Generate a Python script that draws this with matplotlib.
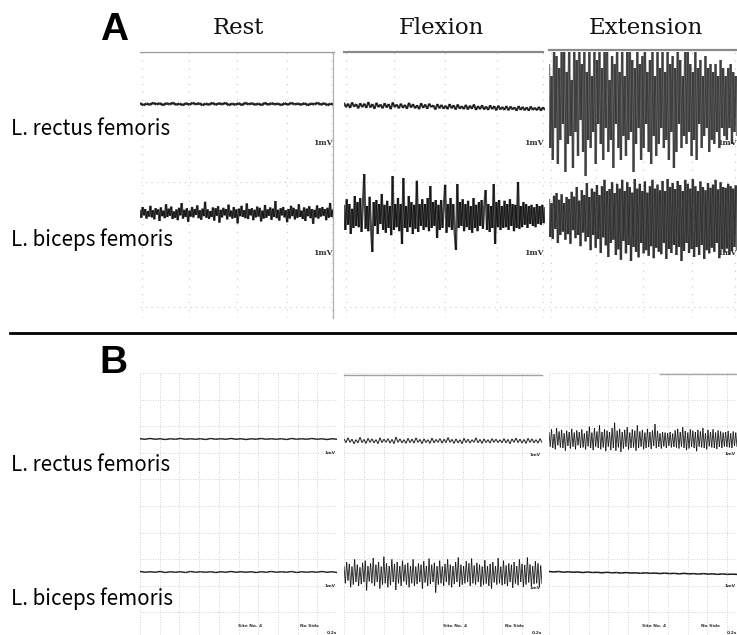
import numpy as np
import matplotlib.pyplot as plt
from matplotlib.collections import LineCollection

# ============================================================================
# EMG traces
# values are deviations from each trace's baseline in units of 0.01 mV
# ============================================================================

# --- A: Rest ---
a_rest_rectus = [2, -3, 1, -2, 3, -1, 2, -3, 2, -1, 3, -2, 1, -3, 2, -2, 3, -1, 2, -3,
                 1, -2, 3, -2, 2, -1, 3, -3, 1, -2, 2, -3, 3, -1, 2, -2, 1, -3, 3, -2,
                 2, -1, 1, -3, 2, -2, 3, -1, 1, -2, 2, -3, 1, -1, 3, -2, 2, -3, 1, -2]
a_rest_biceps = [8, -12, 15, -6, 10, -14, 5, -9, 18, -11, 7, -16, 12, -4, 9, -20, 14, -8, 6, -13,
                 22, -10, 11, -7, 16, -15, 4, -12, 9, -18, 13, -6, 25, -14, 8, -10, 12, -22, 6, -9,
                 15, -11, 10, -5, 19, -13, 7, -17, 11, -8, 28, -12, 9, -15, 5, -10, 14, -19, 12, -7,
                 17, -24, 8, -11, 13, -6, 10, -16, 21, -9, 6, -14, 15, -12, 9, -26, 11, -8, 18, -10,
                 7, -13, 24, -15, 10, -6, 12, -18, 8, -11, 16, -9, 13, -21, 6, -14, 20, -12, 9, -7,
                 14, -17, 11, -10, 30, -13, 8, -19, 12, -6, 15, -11, 7, -23, 10, -14, 18, -8, 13, -16,
                 9, -12, 22, -10, 6, -15, 14, -20, 11, -8, 17, -13, 10, -27, 8, -11, 19, -14, 12, -9,
                 15, -7, 10, -18, 13, -12, 25, -10, 8, -16]

# --- A: Flexion ---
a_flex_rectus = [8, -3, 6, -5, 9, -2, 5, -6, 7, -3, 6, -5, 10, -4, 5, -7, 8, -3, 4, -6,
                 7, -4, 5, -8, 9, -3, 4, -6, 6, -5, 3, -7, 8, -4, 5, -6, 2, -8, 7, -5,
                 4, -7, 6, -3, 2, -9, 5, -6, 3, -7, 1, -8, 5, -6, 2, -9, 4, -7, 0, -8,
                 3, -9, 1, -7, 4, -10, 0, -8, 2, -9, -1, -10, 2, -8, 0, -11, 1, -9, -2, -10,
                 0, -11, -1, -9, -3, -12, 0, -10, -2, -11, -3, -12, -1, -10, -4, -11, -2, -12, -3, -10]
a_flex_biceps = [28, -35, 42, -22, 30, -45, 18, -30, 50, -25, 35, -28, 45, -40, 30, 105, -32, 25, -38, 48,
                 -30, -90, 35, -25, 40, -45, 30, -20, 55, -35, 28, -42, 38, -30, 25, -48, 100, -35, 30, -28,
                 45, -38, 30, -70, 95, -30, 25, -40, 50, -28, 35, -45, 28, -32, 88, -40, 30, -25, 42, -35,
                 30, -28, 45, -38, 75, -30, 35, -25, 40, -55, 28, -35, 40, -30, 25, 78, -42, 30, -28, 45,
                 -35, 30, -40, -85, 80, -30, 35, -25, 42, -38, 30, -28, 38, -35, 25, -42, 45, -30, 28, -38,
                 35, -25, 40, -32, 28, 65, -35, 30, -40, 25, -30, 80, -70, 35, -28, 40, -35, 25, -30, 38,
                 -28, 30, -35, 42, -25, 30, -38, 28, -30, 85, -32, 25, -28, 35, -22, 30, -30, 25, -20, 28,
                 -25, 22, -28, 30, -20, 25, -22, 28, -18, 22]

# --- A: Extension ---
a_ext_rectus = [90, -120, 60, -150, 130, -70, 110, -160, 80, -100, 150, -60, 120, -180, 70, -110, 140, -90, 50, -170,
                130, -80, 100, -140, 160, -50, 90, -130, 120, -190, 70, -100, 150, -120, 60, -80, 130, -160, 100, -60,
                140, -110, 80, -150, 120, -70, 160, -130, 50, -100, 110, -170, 90, -60, 140, -120, 70, -150, 130, -90,
                60, -140, 120, -100, 150, -80, 100, -180, 80, -110, 130, -70, 90, -150, 110, -120, 140, -60, 70, -130,
                100, -160, 120, -90, 60, -140, 150, -110, 80, -70, 140, -120, 70, -100, 130, -150, 90, -80, 110, -170,
                80, -130, 150, -60, 100, -120, 60, -90, 140, -110, 120, -80, 90, -140, 70, -100, 130, -150, 80, -60,
                100, -120, 60, -90, 110, -70, 80, -130, 90, -100, 70, -110, 90, -80, 60, -120, 100, -70, 80, -90,
                60, -100, 80, -70, 90, -110, 70, -80, 60, -90]
a_ext_biceps = [40, -55, 30, -60, 48, -35, 55, -70, 38, -50, 52, -42, 30, -62, 45, -48, 40, -72, 58, -38,
                46, -58, 70, -50, 36, -78, 62, -44, 50, -66, 80, -55, 45, -88, 66, -50, 58, -82, 75, -60,
                50, -95, 72, -56, 88, -76, 60, -105, 65, -70, 82, -62, 55, -100, 78, -86, 66, -112, 88, -65,
                60, -96, 82, -75, 70, -115, 56, -80, 90, -92, 66, -106, 78, -70, 60, -96, 84, -88, 56, -102,
                72, -78, 88, -108, 66, -82, 76, -92, 62, -98, 85, -70, 60, -110, 90, -85, 70, -95, 80, -75,
                65, -100, 85, -80, 75, -115, 60, -90, 88, -70, 78, -95, 66, -85, 90, -105, 72, -80, 60, -100,
                84, -75, 70, -110, 62, -88, 80, -96, 68, -82, 76, -92, 88, -70, 64, -108, 82, -86, 70, -94,
                68, -84, 78, -100, 72, -90, 66, -80, 74, -88]

# --- B: Rest ---
b_rest_rectus = [1, -1, 2, -1, 1, -2, 1, -1, 2, -1, 1, -1, 1, -2, 2, -1, 1, -1, 2, -1,
                 1, -2, 1, -1, 2, -1, 1, -1, 1, -2, 2, -1, 1, -1, 2, -1, 1, -2, 1, -1]
b_rest_biceps = [2, -1, 1, -1, 2, -2, 1, -1, 1, -2, 2, -1, 1, -1, 1, -2, 1, -1, 2, -1,
                 1, -1, 1, -2, 1, -1, 2, -1, 1, -1, 2, -2, 1, -1, 1, -1, 2, -1, 1, -2]

# --- B: Flexion ---
b_flex_rectus = [8, -6, 12, -5, 7, -10, 5, -7, 14, -6, 6, -9, 10, -5, 8, -7, 5, -10, 12, -6,
                 7, -5, 9, -8, 6, -10, 15, -5, 8, -7, 5, -9, 10, -6, 7, -8, 12, -5, 6, -10,
                 8, -6, 5, -9, 11, -7, 6, -5, 9, -8, 7, -6, 13, -5, 6, -9, 8, -7, 5, -10,
                 10, -6, 7, -8, 5, -5, 12, -7, 6, -9, 8, -6, 5, -8, 9, -5, 7, -6, 5, -7,
                 9, -7, 6, -10, 8, -5, 11, -6, 7, -8, 6, -9, 10, -5, 8, -7, 5, -8, 9, -6]
b_flex_biceps = [30, -35, 45, -25, 38, -50, 28, -40, 55, -30, 35, -45, 25, -38, 42, -30, 50, -62, 30, -28,
                 40, -35, 60, -45, 35, -30, 45, -55, 28, -40, 65, -35, 40, -50, 30, -42, 55, -30, 38, -60,
                 45, -35, 30, -45, 50, -28, 35, -40, 42, -50, 30, -35, 55, -45, 28, -38, 40, -30, 35, -55,
                 48, -32, 30, -45, 58, -38, 35, -30, 42, -70, 30, -40, 50, -35, 28, -45, 38, -30, 55, -42,
                 35, -50, 30, -38, 45, -30, 62, -48, 35, -40, 30, -35, 48, -30, 40, -45, 58, -35, 32, -40,
                 42, -30, 35, -48, 28, -40, 52, -36, 30, -45, 38, -55, 45, -32, 30, -40, 60, -35, 28, -42,
                 50, -38, 32, -45, 40, -30, 35, -52, 45, -36, 30, -42, 55, -30, 38, -48, 34, -40, 62, -32,
                 36, -45, 30, -38, 48, -35, 40, -50, 32, -38]

# --- B: Extension ---
b_ext_rectus = [30, -25, 40, -30, 22, -35, 45, -20, 32, -28, 38, -30, 25, -40, 35, -22, 30, -32, 42, -25,
                28, -35, 36, -20, 30, -30, 40, -28, 25, -36, 34, -24, 50, -30, 28, -38, 45, -25, 32, -30,
                55, -35, 30, -28, 40, -42, 35, -25, 30, -38, 45, -30, 65, -40, 35, -28, 42, -45, 30, -32,
                38, -25, 48, -36, 28, -30, 40, -28, 35, -40, 55, -30, 32, -25, 38, -35, 28, -30, 42, -26,
                30, -34, 36, -22, 60, -30, 34, -26, 25, -32, 30, -24, 28, -30, 26, -22, 30, -28, 24, -26,
                36, -28, 42, -32, 30, -25, 48, -30, 34, -38, 28, -32, 40, -26, 35, -30, 30, -42, 38, -25,
                32, -28, 45, -30, 26, -35, 38, -24, 30, -28, 40, -30, 28, -34, 36, -26, 32, -30, 28, -24,
                30, -26, 34, -28, 25, -30, 32, -22, 28, -26]
b_ext_biceps = [2, 0, 2, -1, 1, -1, 0, -2, 0, -2, -1, -3, -1, -3, -2, -4, -2, -4, -3, -5,
                -3, -5, -4, -6, -4, -6, -5, -7, -5, -7, -6, -8, -6, -8, -7, -9, -7, -9, -8, -9]

conditions = ['Rest', 'Flexion', 'Extension']
muscles = ['L. rectus femoris', 'L. biceps femoris']

# ============================================================================
# Layout (pixels of the 737x635 canvas, origin top-left)
# ============================================================================
W, H = 737, 635
fig = plt.figure(figsize=(W / 100, H / 100), dpi=100)


def px_axes(x0, y0, x1, y1):
    ax = fig.add_axes([x0 / W, 1 - y1 / H, (x1 - x0) / W, (y1 - y0) / H])
    ax.set_axis_off()
    return ax


def draw_trace(ax, values, base, scale, lw, alpha):
    # values in 0.01 mV -> axis units via scale (axis units per mV)
    v = np.asarray(values, dtype=float) / 100.0
    x = np.linspace(0, 1, len(v))
    y = base + v * scale
    pts = np.column_stack([x, y])
    segs = np.stack([pts[:-1], pts[1:]], axis=1)
    ax.add_collection(LineCollection(segs, colors='black', linewidths=lw, alpha=alpha))


def fpx(x, y):
    return x / W, 1 - y / H


# ---------------------------- Panel A ---------------------------------------
# axes in pixel units (0 at top edge, negative downwards); 1 mV = 40 px
A_TOP, A_BOT, A_SCALE = 52, 318, 40.0
a_cols = [(140, 334), (344, 545), (549, 737)]
a_traces = [(a_rest_rectus, a_rest_biceps),
            (a_flex_rectus, a_flex_biceps),
            (a_ext_rectus, a_ext_biceps)]
a_bases = [(104, 213), (106, 216), (100, 215)]
# (lw rectus, alpha rectus, lw biceps, alpha biceps)
a_styles = [(1.8, 0.85, 1.6, 0.7), (1.5, 0.8, 1.6, 0.7), (1.7, 0.5, 1.7, 0.55)]

for (x0, x1), (tr, tb), (br, bb), (lr, ar, lb, ab) in zip(a_cols, a_traces, a_bases, a_styles):
    ax = px_axes(x0, A_TOP, x1, A_BOT)
    ax.set_xlim(0, 1)
    ax.set_ylim(-(A_BOT - A_TOP), 0)
    for gx in [0.01, 0.25, 0.5, 0.76, 0.99]:
        ax.axvline(gx, color='#c8c8c8', lw=0.8, ls=(0, (1, 6)))
    for gy in [182, 307]:
        ax.axhline(-(gy - A_TOP), color='#c8c8c8', lw=0.8, ls=(0, (1, 4)))
    draw_trace(ax, tr, -(br - A_TOP), A_SCALE, lr, ar)
    draw_trace(ax, tb, -(bb - A_TOP), A_SCALE, lb, ab)
    for lab_y in [143, 253]:
        ax.text(0.995, -(lab_y - A_TOP), '1mV', ha='right', va='center', fontsize=5.5,
                family='DejaVu Serif', weight='bold', color='#333333', clip_on=True)

# borders of the A frames
fig.add_artist(plt.Line2D([140 / W, 334 / W], [1 - 52 / H] * 2, color='#9a9a9a', lw=0.9))
fig.add_artist(plt.Line2D([333 / W] * 2, [1 - 52 / H, 1 - 318 / H], color='#b0b0b0', lw=0.9))
fig.add_artist(plt.Line2D([344 / W, 543 / W], [1 - 52 / H] * 2, color='#8a8a8a', lw=1.6))
fig.add_artist(plt.Line2D([549 / W, 737 / W], [1 - 50 / H] * 2, color='#8a8a8a', lw=1.6))

# ---------------------------- Panel B ---------------------------------------
# axes in grid divisions of 26.6 px; 1 mV = 1 division
B_TOP, B_BOT, B_DIV = 373, 635, 26.6
b_cols = [(140, 337), (344, 542), (549, 737)]
b_traces = [(b_rest_rectus, b_rest_biceps),
            (b_flex_rectus, b_flex_biceps),
            (b_ext_rectus, b_ext_biceps)]
b_bases = [(439, 572), (441, 574), (440, 572)]
b_styles = [(1.0, 0.9, 1.0, 0.9), (0.8, 0.8, 0.7, 0.8), (0.7, 0.8, 1.1, 0.9)]

for i, ((x0, x1), (tr, tb), (br, bb), (lr, ar, lb, ab)) in enumerate(zip(b_cols, b_traces, b_bases, b_styles)):
    ax = px_axes(x0, B_TOP, x1, B_BOT)
    ax.set_xlim(0, 1)
    ax.set_ylim(-(B_BOT - B_TOP) / B_DIV, 0)
    n_cols = 10 if i < 2 else 9.5
    for k in range(11):
        ax.axvline(k / n_cols, color='#c4c4c4', lw=0.6, ls=(0, (1, 2)))
    for k in range(10):
        ax.axhline(-k, color='#c4c4c4', lw=0.6, ls=(0, (1, 2)))
    draw_trace(ax, tr, -(br - B_TOP) / B_DIV, 1.0, lr, ar)
    draw_trace(ax, tb, -(bb - B_TOP) / B_DIV, 1.0, lb, ab)
    for lab_y in [br + 14, bb + 14]:
        ax.text(0.99, -(lab_y - B_TOP) / B_DIV, '1mV', ha='right', va='center',
                fontsize=3.2, weight='bold', color='#333333', clip_on=True)
    ax.text(0.56, -(626 - B_TOP) / B_DIV, 'Site No. 4', ha='center', va='center',
            fontsize=3.2, weight='bold', color='#333333', clip_on=True)
    ax.text(0.86, -(626 - B_TOP) / B_DIV, 'No Side', ha='center', va='center',
            fontsize=3.2, weight='bold', color='#333333', clip_on=True)
    ax.text(1.0, -(633 - B_TOP) / B_DIV, '0.2s', ha='right', va='center',
            fontsize=3.2, weight='bold', color='#333333', clip_on=False)

fig.add_artist(plt.Line2D([344 / W, 542 / W], [1 - 375 / H] * 2, color='#a0a0a0', lw=1.0))
fig.add_artist(plt.Line2D([660 / W, 737 / W], [1 - 374 / H] * 2, color='#a8a8a8', lw=1.0))

# ---------------------------- Labels ----------------------------------------
sans = ['Noto Sans CJK JP', 'DejaVu Sans']
fig.text(*fpx(114, 30), 'A', ha='center', va='center', fontsize=28,
         family='Liberation Sans', weight='bold')
fig.text(*fpx(113, 363), 'B', ha='center', va='center', fontsize=28,
         family='Liberation Sans', weight='bold')

for name, cx in zip(conditions, [238, 441, 646]):
    fig.text(*fpx(cx, 28), name, ha='center', va='center', fontsize=16.5,
             family='DejaVu Serif', color='#111111')

for ys in [(129, 240), (465, 599)]:
    for name, y in zip(muscles, ys):
        fig.text(*fpx(11, y), name, ha='left', va='center', fontsize=14.8, family=sans)

# separator between A and B
fig.add_artist(plt.Line2D([10 / W, 1], [1 - 333 / H] * 2, color='black', lw=2.0))

plt.savefig('out.png', dpi=100)
